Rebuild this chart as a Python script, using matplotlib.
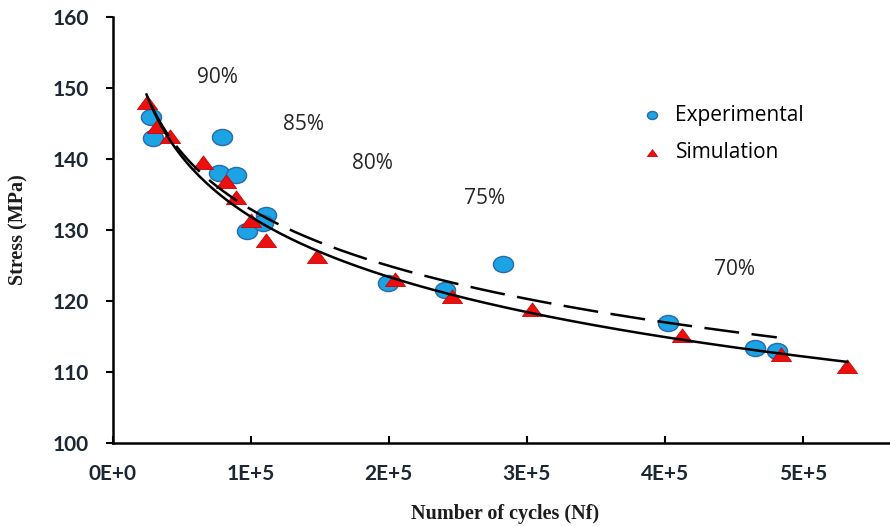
import numpy as np
import matplotlib
matplotlib.use("Agg")
import matplotlib.pyplot as plt
from matplotlib.path import Path
from matplotlib.transforms import Affine2D

# cycles to failure and stress amplitude
exp_cycles = [28000, 29000, 79500, 77000, 89000, 97000, 111000, 109000,
              199500, 241000, 282500, 402500, 465500, 481000]
exp_stress = [145.9, 143.0, 143.1, 138.0, 137.7, 129.8, 132.1, 131.0,
              122.5, 121.5, 125.2, 116.9, 113.3, 112.9]

sim_cycles = [24500, 32000, 41500, 65500, 82000, 89500, 100000, 111000,
              148000, 204500, 245500, 303500, 412500, 484000, 532000]
sim_stress = [147.8, 144.5, 143.1, 139.4, 136.8, 134.5, 131.2, 128.4,
              126.2, 123.0, 120.6, 118.7, 115.0, 112.4, 110.7]

load_levels = ["90%", "85%", "80%", "75%", "70%"]
level_pos = [(75600, 151.5), (137900, 144.9), (187900, 139.4),
             (269100, 134.4), (450200, 124.4)]

x_ticks = [0, 100000, 200000, 300000, 400000, 500000]
x_tick_labels = ["0E+0", "1E+5", "2E+5", "3E+5", "4E+5", "5E+5"]
y_ticks = [100, 110, 120, 130, 140, 150, 160]

# slightly squashed marker shapes
circle = Path.unit_circle().transformed(Affine2D().scale(1.0, 0.8))
tri = Path([(-1, -0.6), (1, -0.6), (0, 0.75), (-1, -0.6)],
           [Path.MOVETO, Path.LINETO, Path.LINETO, Path.CLOSEPOLY])

fig = plt.figure(figsize=(8.9, 5.26), dpi=100)
ax = fig.add_axes([0.1266, 0.158, 0.8734, 0.81])

ax.scatter(exp_cycles, exp_stress, s=210, marker=circle, color="#1ba3e3",
           edgecolors="#2a6aa8", linewidths=1.0, zorder=2, label="Experimental")
ax.scatter(sim_cycles, sim_stress, s=210, marker=tri, color="#ea1010",
           edgecolors="#d00000", linewidths=0.6, zorder=3, label="Simulation")

# logarithmic trendlines
for xs, ys, style in [(exp_cycles, exp_stress, "dashed"),
                      (sim_cycles, sim_stress, "solid")]:
    k, c = np.polyfit(np.log(xs), ys, 1)
    xx = np.linspace(min(xs), max(xs), 200)
    line, = ax.plot(xx, k * np.log(xx) + c, color="black", lw=1.8, zorder=4)
    if style == "dashed":
        line.set_dashes((14, 5))

for txt, (px, py) in zip(load_levels, level_pos):
    ax.text(px, py, txt, ha="center", va="center", fontsize=15,
            family="Open Sans", color="#262626")

ax.set_xlim(0, 563000)
ax.set_ylim(100, 160)
ax.set_xticks(x_ticks)
ax.set_xticklabels(x_tick_labels)
ax.set_yticks(y_ticks)

for side in ["top", "right"]:
    ax.spines[side].set_visible(False)
for side in ["left", "bottom"]:
    ax.spines[side].set_linewidth(1.8)
    ax.spines[side].set_color("black")

ax.tick_params(axis="y", direction="out", length=5, width=1.5, pad=12)
ax.tick_params(axis="x", direction="in", length=5, width=1.5, pad=15)
for lab in ax.get_xticklabels() + ax.get_yticklabels():
    lab.set_fontfamily("Lato")
    lab.set_fontweight("bold")
    lab.set_fontsize(15)
    lab.set_color("#1c2733")

ax.set_xlabel("Number of cycles (Nf)", family="Liberation Serif",
              fontweight="bold", fontsize=14.5, color="#1c1c1c")
ax.set_ylabel("Stress (MPa)", family="Liberation Serif",
              fontweight="bold", fontsize=14.5, color="#1c1c1c")
ax.xaxis.set_label_coords(0.505, -0.143)
ax.yaxis.set_label_coords(-0.108, 0.5)

ax.legend(loc="upper left", bbox_to_anchor=(0.653, 0.838), frameon=False,
          markerscale=0.5, handletextpad=0.55, labelspacing=0.8,
          prop={"family": "Open Sans", "size": 15}, handlelength=1.2)

fig.savefig("out.png", dpi=100)
